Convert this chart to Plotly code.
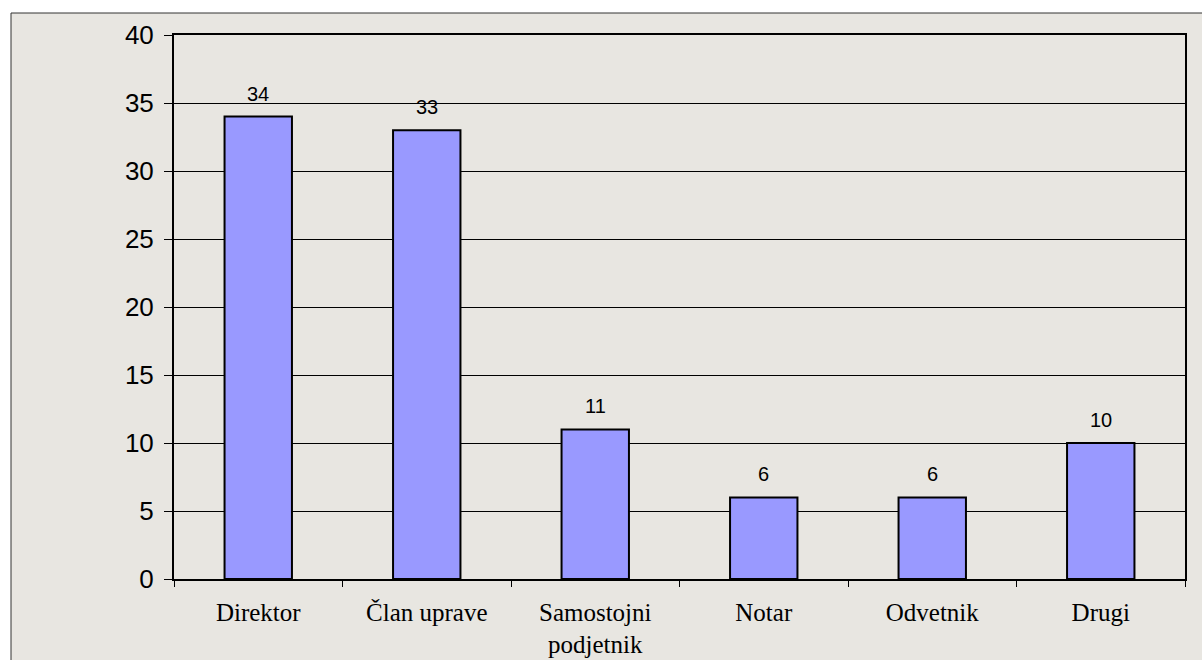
import plotly.graph_objects as go

categories = ["Direktor", "Član uprave", "Samostojni podjetnik", "Notar", "Odvetnik", "Drugi"]
label_line1 = ["Direktor", "Član uprave", "Samostojni", "Notar", "Odvetnik", "Drugi"]
label_line2 = ["", "", "podjetnik", "", "", ""]
values = [34, 33, 11, 6, 6, 10]
y_ticks = [0, 5, 10, 15, 20, 25, 30, 35, 40]

BG = "#e8e6e1"
SERIF = "Liberation Serif, Times New Roman"
SANS = "Liberation Sans, Arial"

fig = go.Figure()
fig.add_trace(go.Bar(
    x=categories, y=values,
    marker=dict(color="#9999ff", line=dict(color="black", width=2)),
    hoverinfo="skip",
))

for c, v in zip(categories, values):
    fig.add_annotation(x=c, y=v, text=str(v), showarrow=False, yanchor="bottom",
                       yshift=10, font=dict(family=SANS, size=20, color="black"))

for c, t in zip(categories, label_line2):
    if t:
        fig.add_annotation(x=c, y=0, yref="paper", text=t, showarrow=False, yanchor="top",
                           yshift=-50, font=dict(family=SERIF, size=25, color="black"))

L, R, T, B = 174, 17, 35, 81
pw, ph = 1202 - L - R, 660 - T - B
fig.add_shape(type="rect", xref="paper", yref="paper", layer="below",
              x0=(11 - L) / pw, x1=(1215 - L) / pw,
              y0=-(B + 20) / ph, y1=(ph + T - 13) / ph,
              line=dict(color="#333333", width=1), fillcolor=BG)

fig.update_layout(
    width=1202, height=660,
    margin=dict(l=L, r=R, t=T, b=B, autoexpand=False),
    paper_bgcolor="white", plot_bgcolor=BG,
    bargap=0.6, showlegend=False,
    xaxis=dict(
        automargin=False,
        tickmode="array", tickvals=categories, ticktext=label_line1,
        showline=True, linecolor="black", linewidth=2, mirror=True,
        ticks="outside", tickson="boundaries", ticklen=6, tickcolor="black", tickwidth=1,
        tickfont=dict(family=SERIF, size=25, color="black"),
        ticklabelstandoff=10,
        showgrid=False,
    ),
    yaxis=dict(
        automargin=False,
        range=[0, 40], tickvals=y_ticks,
        showline=True, linecolor="black", linewidth=2, mirror=True,
        ticks="outside", ticklen=8, tickcolor="black", tickwidth=1,
        tickfont=dict(family=SANS, size=26, color="black"),
        ticklabelstandoff=5,
        showgrid=True, gridcolor="black", gridwidth=1, zeroline=False,
    ),
)

fig.write_html("out.html")
